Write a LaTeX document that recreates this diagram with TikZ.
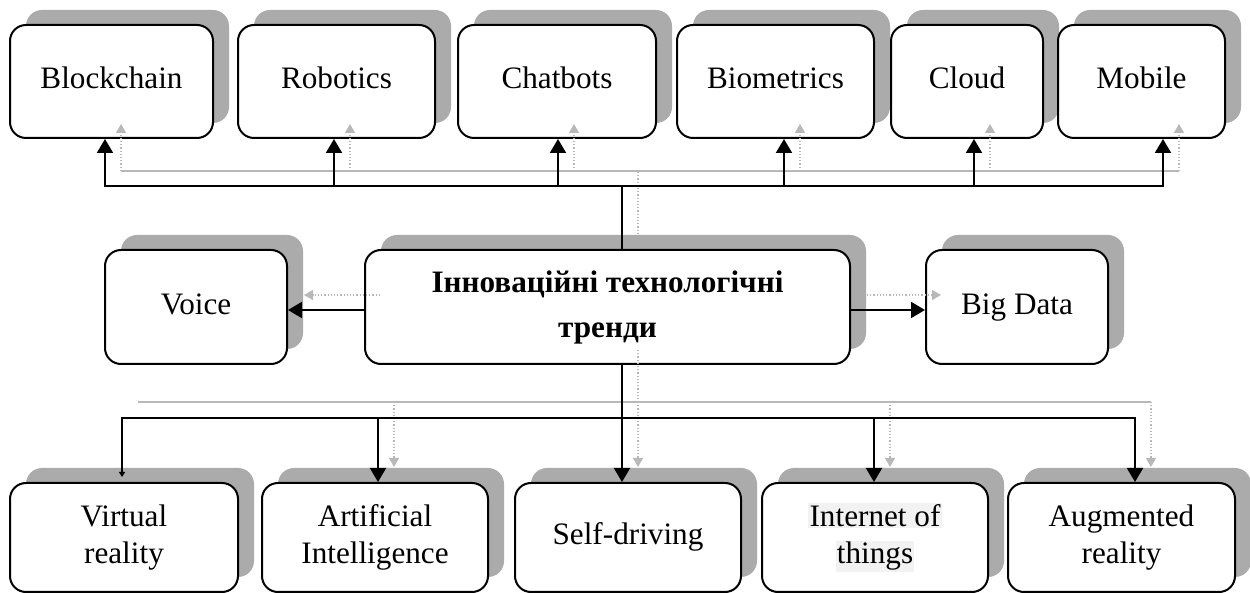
\documentclass[tikz,border=0pt]{standalone}
\usepackage{fontspec}
\setmainfont{Liberation Serif}
\usetikzlibrary{arrows.meta,shadows}
\begin{document}
\begin{tikzpicture}[x=0.5pt,y=-0.5pt,
  box/.style={draw, line width=1pt, rounded corners=8pt, fill=white, inner sep=0pt,
    align=center, font=\fontsize{15.6}{18.5}\selectfont,
    drop shadow={shadow xshift=8pt, shadow yshift=7.5pt, fill=black!33, opacity=1}},
  toprow/.style={box, minimum height=56.5pt},
  midrow/.style={box, minimum height=57pt},
  botrow/.style={box, minimum height=54.5pt},
  oneline/.style={execute at begin node=\strut},
  blk/.style={line width=1pt, black},
  blkarr/.style={blk, -{Triangle[width=8pt,length=7pt]}},
  gln/.style={line width=0.6pt, black!28},
  gdot/.style={gln, densely dotted},
  garr/.style={gdot, -{Triangle[width=5pt,length=4.5pt]}},
]
\useasboundingbox (0,0) rectangle (1250,593);

% top row
\node[toprow, oneline, minimum width=101.5pt] (blockchain) at (111.5,81.5) {Blockchain};
\node[toprow, oneline, minimum width=98.5pt] (robotics) at (336.5,81.5) {Robotics};
\node[toprow, oneline, minimum width=99pt] (chatbots) at (557,81.5) {Chatbots};
\node[toprow, oneline, minimum width=98.5pt] (biometrics) at (775.5,81.5) {Biometrics};
\node[toprow, oneline, minimum width=76pt] (cloud) at (967,81.5) {Cloud};
\node[toprow, oneline, minimum width=83.5pt] (mobile) at (1141.5,81.5) {Mobile};

% middle row
\node[midrow, oneline, minimum width=91pt] (voice) at (196,307) {Voice};
\node[midrow, minimum width=242.5pt, font=\fontsize{15.6}{22.5}\selectfont\bfseries] (trend) at (607.5,307) {Інноваційні технологічні\\тренди};
\node[midrow, oneline, minimum width=91pt] (bigdata) at (1017,307) {Big Data};

% bottom row
\node[botrow, minimum width=114pt] (vr) at (124,537.5) {Virtual\\reality};
\node[botrow, minimum width=113pt] (ai) at (375,537.5) {Artificial\\Intelligence};
\node[botrow, oneline, minimum width=113pt] (sd) at (628,537.5) {Self-driving};
\node[botrow, minimum width=113pt] (iot) at (875,537.5) {{\fboxsep=0.6pt\colorbox{black!5}{Internet of}}\\{\fboxsep=0.6pt\colorbox{black!5}{things}}};
\node[botrow, minimum width=113.5pt] (ar) at (1121.5,537.5) {Augmented\\reality};

% ---------- gray (shadow) connectors ----------
\coordinate (gtbus) at (638,171);
\foreach \n/\dx in {blockchain/4.75pt, robotics/6.75pt, chatbots/8.5pt, biometrics/12.25pt, cloud/11.5pt, mobile/18.75pt}
  \coordinate (g\n) at ([xshift=\dx,yshift=7.5pt]\n.south);
\draw[gln] (gblockchain |- gtbus) -- (gmobile |- gtbus);
\foreach \n in {blockchain, robotics, chatbots, biometrics, cloud, mobile}
  \draw[garr] (g\n |- gtbus) -- (g\n);
\coordinate (gtn) at ([xshift=15.25pt,yshift=7.5pt]trend.north);
\draw[gdot] (gtn) -- (gtn |- gtbus);

\draw[garr] ([xshift=8pt,yshift=6pt]trend.west) -- ([xshift=8pt,yshift=6pt]voice.east);
\draw[garr] ([xshift=8pt,yshift=6pt]trend.east) -- ([xshift=8pt,yshift=6pt]bigdata.west);

\coordinate (gbbus) at (638,402);
\foreach \n/\dx in {vr/7pt, ai/9.5pt, sd/5pt, iot/7.5pt, ar/14.75pt}
  \coordinate (g\n) at ([xshift=\dx,yshift=7.5pt]\n.north);
\draw[gln] (gvr |- gbbus) -- (gar |- gbbus);
\foreach \n in {ai, sd, iot, ar}
  \draw[garr] (g\n |- gbbus) -- (g\n);
\coordinate (gts) at ([xshift=15.25pt,yshift=7.5pt]trend.south);
\draw[gdot] (gts) -- (gts |- gbbus);

% ---------- black connectors ----------
\coordinate (tbus) at (622,186);
\draw[blk] ([xshift=7.25pt]trend.north) -- (tbus);
\foreach \n/\dx in {blockchain/-3.25pt, robotics/-1.25pt, chatbots/0.5pt, biometrics/4.25pt, cloud/3.5pt, mobile/10.75pt}
  \draw[blkarr] (tbus) -| ([xshift=\dx]\n.south);

\draw[blkarr] ([yshift=-1.5pt]trend.west) -- ([yshift=-1.5pt]voice.east);
\draw[blkarr] ([yshift=-1.5pt]trend.east) -- ([yshift=-1.5pt]bigdata.west);

\coordinate (bbus) at (622,418);
\draw[blk] ([xshift=7.25pt]trend.south) -- (bbus);
\foreach \n/\dx in {ai/1.5pt, sd/-3pt, iot/-0.5pt, ar/6.75pt}
  \draw[blkarr] (bbus) -| ([xshift=\dx]\n.north);
\draw[blk, -{Triangle[width=3pt,length=2.5pt]}] (bbus) -| ([xshift=-1pt,yshift=2.5pt]vr.north);
\end{tikzpicture}
\end{document}
